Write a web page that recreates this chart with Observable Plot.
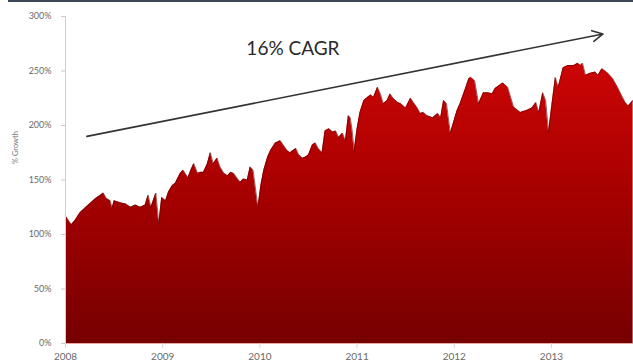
<!DOCTYPE html>
<html>
<head>
<meta charset="utf-8">
<script src="https://cdn.jsdelivr.net/npm/d3@7"></script>
<script src="https://cdn.jsdelivr.net/npm/@observablehq/plot@0.6"></script>
<style>
  html, body { margin: 0; padding: 0; background: #fff; }
  #wrap { position: relative; width: 633px; height: 362px; overflow: hidden; }
  #topbar { position: absolute; top: 0; left: 8px; width: 625px; height: 2px; background: #3b4956; }
</style>
</head>
<body>
<div id="wrap"><div id="topbar"></div></div>
<script>
// Decimal year of each observation
const years = [
  2008.00, 2008.03, 2008.06, 2008.10, 2008.15, 2008.21, 2008.26, 2008.31, 2008.36, 2008.39,
  2008.42, 2008.46, 2008.48, 2008.50, 2008.57, 2008.62, 2008.67, 2008.72, 2008.77, 2008.82,
  2008.85, 2008.88, 2008.93, 2008.96, 2008.99, 2009.03, 2009.06, 2009.10, 2009.13, 2009.18,
  2009.21, 2009.26, 2009.29, 2009.32, 2009.36, 2009.39, 2009.42, 2009.46, 2009.49, 2009.52,
  2009.56, 2009.59, 2009.63, 2009.67, 2009.70, 2009.73, 2009.77, 2009.80, 2009.83, 2009.87,
  2009.90, 2009.93, 2009.98, 2010.01, 2010.04, 2010.08, 2010.11, 2010.16, 2010.21, 2010.24,
  2010.28, 2010.31, 2010.37, 2010.40, 2010.44, 2010.47, 2010.50, 2010.54, 2010.57, 2010.60,
  2010.64, 2010.67, 2010.71, 2010.75, 2010.78, 2010.81, 2010.85, 2010.88, 2010.91, 2010.93,
  2010.95, 2010.97, 2011.00, 2011.03, 2011.07, 2011.11, 2011.14, 2011.17, 2011.21, 2011.24,
  2011.27, 2011.31, 2011.34, 2011.37, 2011.42, 2011.45, 2011.50, 2011.55, 2011.58, 2011.62,
  2011.65, 2011.68, 2011.72, 2011.78, 2011.83, 2011.86, 2011.89, 2011.92, 2011.96, 2011.99,
  2012.03, 2012.06, 2012.12, 2012.15, 2012.17, 2012.21, 2012.25, 2012.30, 2012.35, 2012.39,
  2012.42, 2012.50, 2012.55, 2012.58, 2012.61, 2012.68, 2012.75, 2012.80, 2012.84, 2012.87,
  2012.91, 2012.94, 2012.97, 2013.01, 2013.04, 2013.07, 2013.12, 2013.17, 2013.23, 2013.27,
  2013.30, 2013.32, 2013.35, 2013.40, 2013.45, 2013.48, 2013.52, 2013.58, 2013.63, 2013.68,
  2013.73, 2013.76, 2013.79, 2013.84
];
// Cumulative growth, percent
const growth = [
  117, 113, 109, 113, 120, 125, 129, 133, 136, 138,
  133, 131, 124, 131, 129, 128, 125, 127, 125, 127,
  136, 125, 138, 110, 134, 131, 139, 145, 147, 156,
  159, 152, 159, 165, 156, 157, 157, 165, 175, 165,
  170, 162, 156, 154, 157, 156, 151, 148, 151, 150,
  162, 159, 125, 145, 159, 171, 177, 184, 186, 182,
  177, 175, 179, 173, 170, 171, 173, 182, 184, 179,
  175, 195, 197, 194, 195, 189, 193, 186, 209, 207,
  195, 177, 197, 212, 223, 226, 228, 226, 235, 229,
  220, 223, 229, 225, 221, 220, 216, 225, 221, 216,
  211, 212, 209, 207, 211, 207, 223, 220, 193, 202,
  214, 220, 235, 243, 244, 241, 220, 230, 230, 229,
  234, 239, 235, 226, 217, 212, 214, 216, 221, 212,
  230, 223, 194, 223, 244, 235, 253, 255, 255, 257,
  255, 257, 246, 248, 249, 246, 252, 248, 243, 235,
  226, 221, 218, 223
];
const yTicks = [0, 50, 100, 150, 200, 250, 300];
const xTicks = [2008, 2009, 2010, 2011, 2012, 2013];
const yLabel = "% Growth";
// Trend annotation (data space)
const trendArrow = [{ year1: 2008.22, pct1: 190, year2: 2013.53, pct2: 284 }];
const trendText = [{ year: 2010.34, pct: 270, label: "16% CAGR" }];

const data = years.map((y, i) => ({ year: y, pct: growth[i] }));

const chart = Plot.plot({
  width: 633,
  height: 362,
  marginLeft: 65,
  marginRight: 0,
  marginTop: 16,
  marginBottom: 19,
  style: { fontFamily: "Lato, 'Open Sans', sans-serif", color: "#6a6a6a", background: "transparent", overflow: "visible" },
  x: { domain: [2008, 2013.844] },
  y: { domain: [0, 300] },
  marks: [
    Plot.areaY(data, { x: "year", y: "pct", fill: "url(#redGrad)", curve: "linear" }),
    Plot.line(data, { x: "year", y: "pct", stroke: "#6e0000", strokeWidth: 0.9, strokeOpacity: 0.7 }),
    Plot.ruleY([0], { stroke: "#e9a8a8", strokeWidth: 1.2 }),
    Plot.ruleX([2008], { stroke: "#cfcfcf", strokeWidth: 1 }),
    Plot.axisY({ ticks: yTicks, tickFormat: d => d + "%", tickSize: 4, tickPadding: 10, stroke: "#c8c8c8", fontSize: 9, label: null }),
    Plot.axisX({ ticks: xTicks, tickFormat: d => String(d), tickSize: 5, tickPadding: 4, stroke: "#d6d6d6", fontSize: 10, label: null }),
    Plot.text([yLabel], { frameAnchor: "left", dx: -50, dy: -16, rotate: -90, fontSize: 7.5, fill: "#777" }),
    Plot.arrow(trendArrow, { x1: "year1", y1: "pct1", x2: "year2", y2: "pct2", stroke: "#333", strokeWidth: 1.6, headLength: 11, headAngle: 55 }),
    Plot.text(trendText, { x: "year", y: "pct", text: "label", fontSize: 19, fill: "#2a2a2a", letterSpacing: "-0.9px" })
  ]
});

const ns = "http://www.w3.org/2000/svg";
const defs = document.createElementNS(ns, "defs");
const grad = document.createElementNS(ns, "linearGradient");
grad.setAttribute("id", "redGrad");
grad.setAttribute("x1", "0"); grad.setAttribute("y1", "0");
grad.setAttribute("x2", "0"); grad.setAttribute("y2", "1");
[["0", "#cc0505"], ["0.45", "#a80000"], ["1", "#760000"]].forEach(([o, c]) => {
  const s = document.createElementNS(ns, "stop");
  s.setAttribute("offset", o);
  s.setAttribute("stop-color", c);
  grad.appendChild(s);
});
defs.appendChild(grad);
chart.insertBefore(defs, chart.firstChild);
document.getElementById("wrap").prepend(chart);
</script>
</body>
</html>
